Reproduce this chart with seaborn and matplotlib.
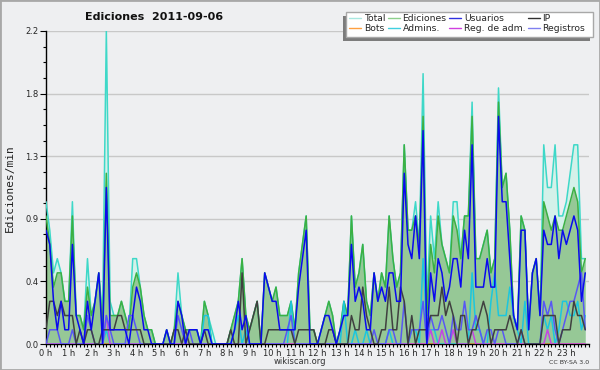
import numpy as np
import matplotlib
matplotlib.use("Agg")
import matplotlib.pyplot as plt
import seaborn as sns
from matplotlib.ticker import MultipleLocator
from matplotlib.lines import Line2D
from matplotlib.patches import Rectangle

# 10-minute bins over the day (x in hours)
horas = np.arange(144) / 6.0
hora_labels = [f"{h} h" for h in range(24)]
y_ticks = [0.0, 0.44, 0.88, 1.32, 1.76, 2.2]
y_labels = ["0.0", "0.4", "0.9", "1.3", "1.8", "2.2"]

# Ediciones/min, one row = 2 hours
total = [
    1.0, 0.8, 0.5, 0.6, 0.5, 0.3, 0.3, 1.0, 0.2, 0.2, 0.1, 0.6,
    0.2, 0.3, 0.5, 0.2, 2.2, 0.3, 0.2, 0.2, 0.3, 0.2, 0.1, 0.6,
    0.6, 0.4, 0.2, 0.1, 0.1, 0.0, 0.0, 0.0, 0.1, 0.0, 0.1, 0.5,
    0.2, 0.1, 0.1, 0.1, 0.1, 0.0, 0.3, 0.2, 0.1, 0.0, 0.0, 0.0,
    0.0, 0.1, 0.2, 0.3, 0.6, 0.2, 0.1, 0.2, 0.3, 0.0, 0.5, 0.4,
    0.3, 0.4, 0.2, 0.2, 0.2, 0.3, 0.1, 0.5, 0.7, 0.9, 0.1, 0.1,
    0.0, 0.1, 0.2, 0.3, 0.2, 0.0, 0.1, 0.3, 0.2, 0.9, 0.4, 0.5,
    0.7, 0.3, 0.2, 0.5, 0.3, 0.5, 0.4, 0.9, 0.6, 0.4, 0.5, 1.4,
    0.8, 0.8, 1.0, 0.7, 1.9, 0.3, 0.9, 0.6, 1.0, 0.7, 0.6, 0.5,
    1.0, 1.0, 0.6, 0.9, 0.9, 1.7, 0.6, 0.6, 0.7, 0.8, 0.5, 0.6,
    1.8, 1.1, 1.2, 0.8, 0.2, 0.1, 0.9, 0.8, 0.1, 0.5, 0.6, 0.2,
    1.4, 1.1, 1.1, 1.4, 0.9, 0.9, 1.0, 1.2, 1.4, 1.4, 0.6, 0.6,
]
ediciones = [
    0.9, 0.7, 0.4, 0.5, 0.5, 0.3, 0.3, 0.9, 0.2, 0.2, 0.1, 0.4,
    0.2, 0.3, 0.5, 0.1, 1.2, 0.2, 0.2, 0.2, 0.3, 0.2, 0.1, 0.4,
    0.5, 0.4, 0.2, 0.1, 0.1, 0.0, 0.0, 0.0, 0.1, 0.0, 0.1, 0.3,
    0.2, 0.1, 0.1, 0.1, 0.1, 0.0, 0.3, 0.2, 0.0, 0.0, 0.0, 0.0,
    0.0, 0.1, 0.2, 0.3, 0.6, 0.2, 0.1, 0.2, 0.3, 0.0, 0.5, 0.4,
    0.3, 0.4, 0.2, 0.2, 0.2, 0.3, 0.1, 0.5, 0.7, 0.9, 0.1, 0.1,
    0.0, 0.1, 0.2, 0.3, 0.2, 0.0, 0.1, 0.3, 0.2, 0.9, 0.4, 0.5,
    0.7, 0.3, 0.2, 0.5, 0.3, 0.5, 0.4, 0.9, 0.6, 0.4, 0.5, 1.4,
    0.8, 0.8, 0.9, 0.7, 1.6, 0.2, 0.7, 0.5, 0.9, 0.7, 0.6, 0.5,
    0.9, 0.8, 0.6, 0.9, 0.9, 1.6, 0.6, 0.6, 0.7, 0.8, 0.5, 0.6,
    1.7, 1.1, 1.2, 0.8, 0.2, 0.1, 0.9, 0.8, 0.1, 0.5, 0.6, 0.2,
    1.0, 0.9, 0.8, 0.9, 0.8, 0.8, 0.9, 1.0, 1.1, 1.0, 0.5, 0.6,
]
usuarios = [
    0.8, 0.7, 0.3, 0.1, 0.3, 0.1, 0.1, 0.7, 0.2, 0.1, 0.0, 0.3,
    0.1, 0.3, 0.5, 0.0, 1.1, 0.1, 0.1, 0.1, 0.1, 0.1, 0.0, 0.2,
    0.4, 0.3, 0.1, 0.1, 0.0, 0.0, 0.0, 0.0, 0.1, 0.0, 0.0, 0.3,
    0.2, 0.0, 0.1, 0.1, 0.1, 0.0, 0.1, 0.1, 0.0, 0.0, 0.0, 0.0,
    0.0, 0.0, 0.1, 0.3, 0.1, 0.2, 0.0, 0.0, 0.0, 0.0, 0.5, 0.4,
    0.3, 0.3, 0.1, 0.1, 0.1, 0.1, 0.1, 0.4, 0.6, 0.8, 0.0, 0.0,
    0.0, 0.1, 0.2, 0.2, 0.1, 0.0, 0.1, 0.2, 0.2, 0.7, 0.3, 0.4,
    0.3, 0.1, 0.1, 0.5, 0.3, 0.4, 0.3, 0.5, 0.5, 0.3, 0.3, 1.2,
    0.7, 0.6, 0.9, 0.6, 1.5, 0.0, 0.5, 0.3, 0.6, 0.5, 0.3, 0.4,
    0.6, 0.6, 0.4, 0.8, 0.6, 1.4, 0.4, 0.4, 0.4, 0.6, 0.4, 0.4,
    1.6, 1.0, 1.0, 0.6, 0.2, 0.1, 0.8, 0.8, 0.1, 0.5, 0.6, 0.2,
    0.8, 0.7, 0.7, 0.9, 0.6, 0.8, 0.7, 0.8, 0.9, 0.8, 0.3, 0.5,
]
ip = [
    0.1, 0.3, 0.3, 0.2, 0.3, 0.2, 0.2, 0.2, 0.0, 0.1, 0.0, 0.1,
    0.1, 0.0, 0.0, 0.1, 0.1, 0.1, 0.1, 0.2, 0.2, 0.1, 0.1, 0.1,
    0.1, 0.1, 0.0, 0.0, 0.0, 0.0, 0.0, 0.0, 0.0, 0.0, 0.1, 0.1,
    0.0, 0.1, 0.0, 0.0, 0.0, 0.0, 0.1, 0.0, 0.0, 0.0, 0.0, 0.0,
    0.0, 0.1, 0.0, 0.0, 0.5, 0.0, 0.1, 0.2, 0.3, 0.0, 0.0, 0.1,
    0.1, 0.1, 0.1, 0.1, 0.1, 0.1, 0.0, 0.1, 0.1, 0.1, 0.1, 0.1,
    0.0, 0.0, 0.0, 0.1, 0.1, 0.0, 0.0, 0.0, 0.0, 0.2, 0.1, 0.1,
    0.4, 0.2, 0.1, 0.0, 0.0, 0.1, 0.1, 0.4, 0.1, 0.1, 0.4, 0.3,
    0.0, 0.2, 0.0, 0.1, 0.1, 0.1, 0.2, 0.2, 0.2, 0.4, 0.2, 0.3,
    0.2, 0.0, 0.2, 0.2, 0.0, 0.1, 0.1, 0.2, 0.3, 0.2, 0.0, 0.1,
    0.1, 0.1, 0.1, 0.2, 0.1, 0.0, 0.1, 0.0, 0.0, 0.0, 0.0, 0.0,
    0.2, 0.2, 0.2, 0.2, 0.0, 0.1, 0.1, 0.1, 0.3, 0.2, 0.2, 0.1,
]
bots = [0.0] * 144
admins = [
    0.0, 0.0, 0.0, 0.0, 0.0, 0.0, 0.0, 0.0, 0.0, 0.0, 0.0, 0.0,
    0.0, 0.0, 0.0, 0.0, 0.1, 0.0, 0.0, 0.0, 0.0, 0.0, 0.0, 0.0,
    0.0, 0.0, 0.0, 0.0, 0.0, 0.0, 0.0, 0.0, 0.0, 0.0, 0.0, 0.0,
    0.0, 0.0, 0.0, 0.0, 0.0, 0.0, 0.2, 0.2, 0.0, 0.0, 0.0, 0.0,
    0.0, 0.0, 0.1, 0.2, 0.0, 0.1, 0.0, 0.0, 0.0, 0.0, 0.0, 0.0,
    0.0, 0.0, 0.0, 0.0, 0.0, 0.3, 0.0, 0.0, 0.0, 0.0, 0.0, 0.0,
    0.0, 0.0, 0.0, 0.0, 0.0, 0.0, 0.0, 0.3, 0.0, 0.0, 0.1, 0.0,
    0.0, 0.1, 0.0, 0.0, 0.0, 0.0, 0.0, 0.1, 0.0, 0.0, 0.0, 0.0,
    0.0, 0.1, 0.1, 0.0, 0.6, 0.1, 0.1, 0.1, 0.0, 0.0, 0.0, 0.0,
    0.0, 0.0, 0.0, 0.0, 0.0, 0.5, 0.1, 0.1, 0.0, 0.0, 0.3, 0.5,
    0.2, 0.2, 0.2, 0.4, 0.2, 0.1, 0.0, 0.3, 0.0, 0.0, 0.0, 0.0,
    0.2, 0.1, 0.2, 0.0, 0.1, 0.3, 0.3, 0.2, 0.2, 0.3, 0.1, 0.2,
]
reg_adm = [
    0.0, 0.0, 0.0, 0.0, 0.0, 0.0, 0.0, 0.0, 0.0, 0.0, 0.0, 0.0,
    0.0, 0.0, 0.0, 0.0, 0.2, 0.0, 0.0, 0.0, 0.0, 0.0, 0.0, 0.0,
    0.0, 0.0, 0.0, 0.0, 0.0, 0.0, 0.0, 0.0, 0.0, 0.0, 0.0, 0.0,
    0.0, 0.0, 0.0, 0.0, 0.0, 0.0, 0.0, 0.0, 0.0, 0.0, 0.0, 0.0,
    0.0, 0.0, 0.0, 0.0, 0.0, 0.0, 0.0, 0.0, 0.0, 0.0, 0.0, 0.0,
    0.0, 0.0, 0.0, 0.0, 0.0, 0.0, 0.0, 0.0, 0.0, 0.0, 0.0, 0.0,
    0.0, 0.0, 0.0, 0.0, 0.0, 0.0, 0.0, 0.0, 0.0, 0.0, 0.0, 0.0,
    0.0, 0.0, 0.0, 0.0, 0.0, 0.0, 0.0, 0.0, 0.0, 0.0, 0.0, 0.0,
    0.0, 0.0, 0.0, 0.0, 0.0, 0.0, 0.1, 0.0, 0.0, 0.1, 0.0, 0.0,
    0.1, 0.0, 0.0, 0.0, 0.0, 0.1, 0.0, 0.0, 0.0, 0.0, 0.0, 0.0,
    0.0, 0.0, 0.0, 0.0, 0.0, 0.0, 0.0, 0.0, 0.0, 0.0, 0.0, 0.0,
    0.0, 0.1, 0.0, 0.0, 0.0, 0.0, 0.0, 0.0, 0.0, 0.0, 0.0, 0.0,
]
registros = [
    0.0, 0.1, 0.1, 0.1, 0.0, 0.0, 0.0, 0.1, 0.0, 0.0, 0.0, 0.2,
    0.1, 0.0, 0.0, 0.0, 0.2, 0.1, 0.0, 0.0, 0.0, 0.0, 0.2, 0.2,
    0.1, 0.0, 0.0, 0.0, 0.0, 0.0, 0.0, 0.0, 0.0, 0.0, 0.0, 0.2,
    0.1, 0.0, 0.1, 0.0, 0.0, 0.0, 0.0, 0.0, 0.0, 0.0, 0.0, 0.0,
    0.0, 0.0, 0.0, 0.0, 0.0, 0.0, 0.0, 0.0, 0.0, 0.0, 0.0, 0.0,
    0.0, 0.0, 0.0, 0.0, 0.1, 0.2, 0.0, 0.0, 0.0, 0.0, 0.0, 0.0,
    0.0, 0.0, 0.0, 0.0, 0.0, 0.0, 0.0, 0.0, 0.0, 0.0, 0.0, 0.0,
    0.0, 0.0, 0.0, 0.1, 0.0, 0.0, 0.0, 0.1, 0.1, 0.0, 0.0, 0.3,
    0.0, 0.1, 0.1, 0.1, 0.3, 0.0, 0.2, 0.1, 0.1, 0.2, 0.1, 0.0,
    0.2, 0.1, 0.1, 0.3, 0.1, 0.1, 0.2, 0.1, 0.0, 0.1, 0.1, 0.0,
    0.1, 0.1, 0.0, 0.0, 0.0, 0.0, 0.1, 0.0, 0.0, 0.0, 0.0, 0.0,
    0.3, 0.2, 0.3, 0.1, 0.0, 0.1, 0.2, 0.3, 0.3, 0.4, 0.5, 0.1,
]

bg = "#eeeff1"
W, H = 600, 370
sns.set_theme(style="white")
plt.rcParams["font.family"] = ["DejaVu Sans"]

fig = plt.figure(figsize=(W / 100, H / 100), dpi=100, facecolor=bg)
ax = fig.add_axes([46 / W, 1 - 344 / H, 543 / W, 313 / H])
ax.patch.set_alpha(0)

# filled areas
ax.fill_between(horas, total, color="#d4f1e9", lw=0, zorder=1)
ax.fill_between(horas, ediciones, color="#96c896", lw=0, zorder=2)

series = [
    (bots, "#ffa040", 2.5),
    (total, "#3ed8c8", 3),
    (ediciones, "#3cb043", 4),
    (admins, "#1cc6de", 5),
    (reg_adm, "#c444e4", 5),
    (registros, "#5858f4", 6),
    (ip, "#404040", 6),
    (usuarios, "#0a0aee", 7),
]
for vals, col, z in series:
    sns.lineplot(x=horas, y=vals, color=col, lw=1.1, ax=ax, zorder=z)

ax.set_xlim(0, 24)
ax.set_ylim(0, 2.2)
ax.set_xticks(np.arange(24))
ax.set_xticklabels(hora_labels)
ax.xaxis.set_minor_locator(MultipleLocator(1 / 6))
ax.set_yticks(y_ticks)
ax.set_yticklabels(y_labels)
ax.yaxis.set_minor_locator(MultipleLocator(0.11))
ax.tick_params(axis="x", which="both", direction="out", length=2.5, width=0.8,
               color="black", labelsize=6, pad=1, bottom=True)
ax.tick_params(axis="y", which="major", direction="out", length=4.3, width=0.8,
               color="black", labelsize=6, pad=1, left=True)
ax.tick_params(axis="y", which="minor", direction="out", length=2.5, width=0.8,
               color="black", left=True)
ax.yaxis.grid(True, color="#c8c8c8", lw=1)
ax.xaxis.grid(False)
ax.set_axisbelow(True)
for s in ["top", "right"]:
    ax.spines[s].set_visible(False)
for s in ["left", "bottom"]:
    ax.spines[s].set_color("black")
    ax.spines[s].set_linewidth(1)
ax.set_xlabel("")
ax.set_ylabel("")

fig.text(154 / W, 1 - 16.5 / H, "Ediciones  2011-09-06", ha="center", va="center",
         fontsize=8, fontweight="bold", color="#111111")
fig.text(9.5 / W, 1 - 188 / H, "Ediciones/min", rotation=90, ha="center", va="center",
         fontsize=8, family="DejaVu Sans Mono", color="#222222")
fig.text(300 / W, 1 - 362 / H, "wikiscan.org", ha="center", va="center",
         fontsize=6, color="#333333")
fig.text(589 / W, 1 - 362 / H, "CC BY-SA 3.0", ha="right", va="center",
         fontsize=4.5, color="#333333")


def px_rect(x0, y0, x1, y1, **kw):
    # rectangle given in image pixels (origin top-left)
    return Rectangle((x0 / W, 1 - y1 / H), (x1 - x0) / W, (y1 - y0) / H,
                     transform=fig.transFigure, **kw)


# legend box with shadow to the lower left
fig.add_artist(px_rect(343, 16, 590, 41, facecolor="#7c7c7c", edgecolor="none", zorder=4))
fig.add_artist(px_rect(346, 12, 593, 37, facecolor="white", edgecolor="#a8a8a8",
                       lw=1, zorder=4.5))

# column-major order -> rows Total/Ediciones/Usuarios/IP, Bots/Admins./...
leg_items = [
    ("Total", "#a8e8e0"), ("Bots", "#ffa040"),
    ("Ediciones", "#8cd08c"), ("Admins.", "#40d0e0"),
    ("Usuarios", "#3030e0"), ("Reg. de adm.", "#d040e0"),
    ("IP", "#303030"), ("Registros", "#8080f0"),
]
handles = [Line2D([], [], color=c, lw=1.0) for _, c in leg_items]
leg = fig.legend(handles, [n for n, _ in leg_items], ncol=4, loc="upper left",
                 bbox_to_anchor=(348 / W, 1 - 13.5 / H), fontsize=6.7,
                 frameon=False, borderpad=0.1, labelspacing=0.05, handlelength=1.3,
                 handletextpad=0.3, columnspacing=0.25, borderaxespad=0)
leg.set_zorder(5)

fig.add_artist(Rectangle((0, 0), 1, 1, transform=fig.transFigure, fill=False,
                         edgecolor="#a8a8a8", lw=2, zorder=10))

fig.savefig("out.png", dpi=100, facecolor=bg)
